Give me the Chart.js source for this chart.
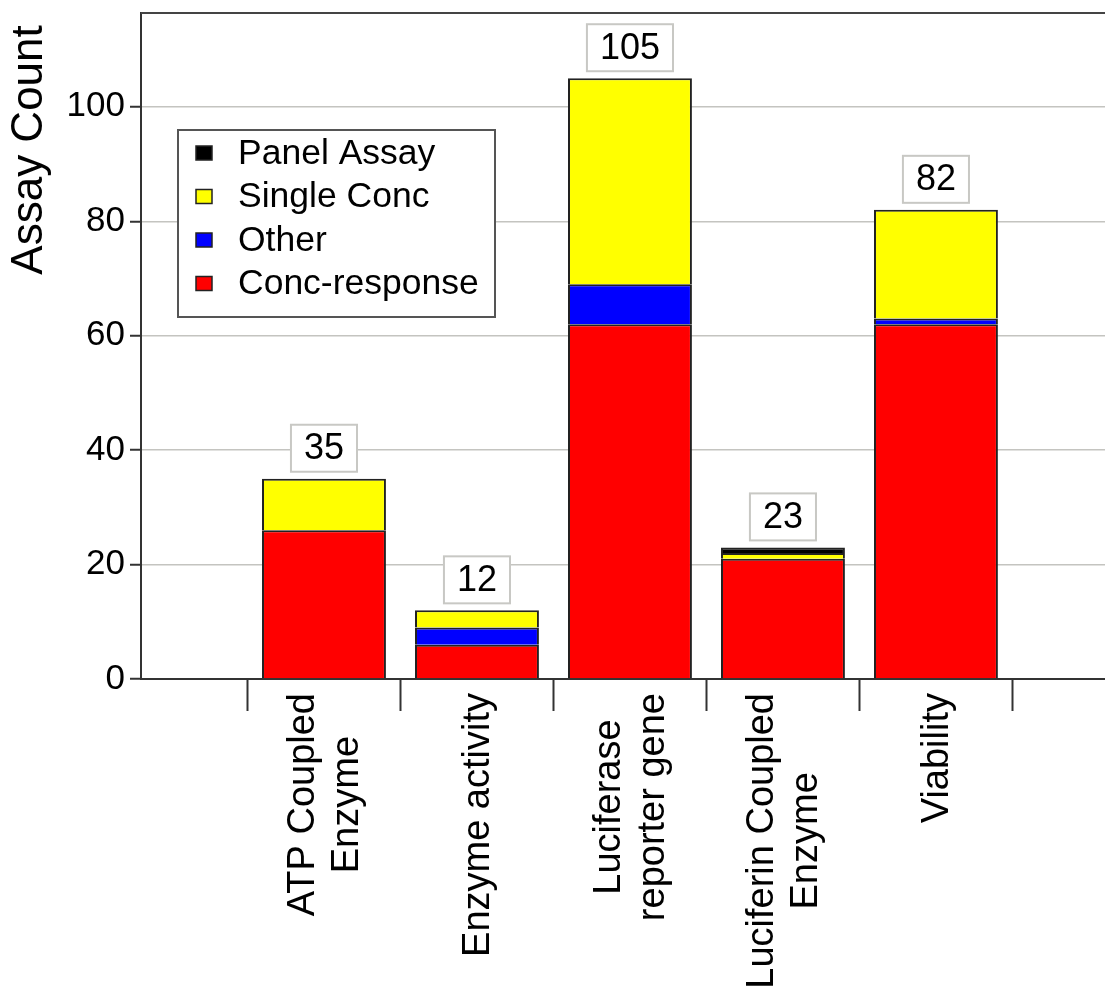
<!DOCTYPE html>
<html>
<head>
<meta charset="utf-8">
<script src="https://cdn.jsdelivr.net/npm/chart.js@4"></script>
<style>
  body { margin: 0; background: #fff; }
  canvas { display: block; }
</style>
</head>
<body>
<canvas id="assayChart" width="1105" height="997"></canvas>
<script>
// Assay counts per detection method, stacked by assay type
const categories = [
  ['ATP Coupled', 'Enzyme'],
  ['Enzyme activity'],
  ['Luciferase', 'reporter gene'],
  ['Luciferin Coupled', 'Enzyme'],
  ['Viability']
]
const concResponse = [26, 6, 62, 21, 62]
const other = [0, 3, 7, 0, 1]
const singleConc = [9, 3, 36, 1, 19]
const panelAssay = [0, 0, 0, 1, 0]

const FONT = "'Liberation Sans', Arial, sans-serif"

// empty segments are left out so they don't leave a stray border line
const toPoints = arr => arr.map((v, i) => ({ x: i + 1, y: v === 0 ? null : v }))

function makeSet(label, values, color) {
  return {
    label: label,
    data: toPoints(values),
    backgroundColor: color,
    borderColor: '#222',
    borderWidth: 2,
    borderSkipped: 'start',
    categoryPercentage: 1,
    barPercentage: 0.81
  }
}

// totals boxes, category labels, legend and top frame
const decorations = {
  id: 'decorations',
  afterDatasetsDraw(chart) {
    const ctx = chart.ctx
    const xs = chart.scales.x
    const ys = chart.scales.y
    const area = chart.chartArea

    // top frame line
    ctx.save()
    ctx.strokeStyle = '#444'
    ctx.lineWidth = 2
    ctx.beginPath()
    ctx.moveTo(area.left, area.top)
    ctx.lineTo(area.right, area.top)
    ctx.stroke()

    // totals
    ctx.font = '36px ' + FONT
    ctx.textAlign = 'center'
    ctx.textBaseline = 'middle'
    categories.forEach((c, i) => {
      let total = 0
      chart.data.datasets.forEach(ds => { total += ds.data[i].y || 0 })
      const cx = xs.getPixelForValue(i + 1)
      const top = ys.getPixelForValue(total)
      const txt = String(total)
      const w = ctx.measureText(txt).width + 26
      const h = 47
      const y0 = top - 7 - h
      ctx.fillStyle = '#fff'
      ctx.fillRect(cx - w / 2, y0, w, h)
      ctx.strokeStyle = '#c8c8c4'
      ctx.lineWidth = 2
      ctx.strokeRect(cx - w / 2, y0, w, h)
      ctx.fillStyle = '#000'
      ctx.fillText(txt, cx, y0 + h / 2 + 1)
    })

    // category labels, rotated, lines centred on each other
    ctx.font = '38px ' + FONT
    categories.forEach((lines, i) => {
      const cx = xs.getPixelForValue(i + 1)
      const wMax = Math.max(...lines.map(l => ctx.measureText(l).width))
      ctx.save()
      ctx.translate(cx, area.bottom + 14 + wMax / 2)
      ctx.rotate(-Math.PI / 2)
      ctx.textAlign = 'center'
      ctx.textBaseline = 'middle'
      ctx.fillStyle = '#000'
      lines.forEach((l, k) => {
        ctx.fillText(l, 0, (k - (lines.length - 1) / 2) * 44 + 2)
      })
      ctx.restore()
    })

    // legend box
    const bx = 178, by = 130, bw = 317, bh = 187
    ctx.fillStyle = '#fff'
    ctx.fillRect(bx, by, bw, bh)
    ctx.strokeStyle = '#555'
    ctx.lineWidth = 2
    ctx.strokeRect(bx, by, bw, bh)
    ctx.font = '35.5px ' + FONT
    ctx.textAlign = 'left'
    ctx.textBaseline = 'middle'
    const items = chart.data.datasets.slice().reverse()
    items.forEach((ds, k) => {
      const cy = 153 + k * 43.5
      ctx.fillStyle = ds.backgroundColor
      ctx.fillRect(196, cy - 7, 16, 14)
      ctx.strokeStyle = '#222'
      ctx.lineWidth = 1.5
      ctx.strokeRect(196, cy - 7, 16, 14)
      ctx.fillStyle = '#000'
      ctx.fillText(ds.label, 238, cy + 1)
    })
    ctx.restore()
  }
}

const ctx = document.getElementById('assayChart').getContext('2d')

new Chart(ctx, {
  type: 'bar',
  data: {
    datasets: [
      makeSet('Conc-response', concResponse, '#ff0000'),
      makeSet('Other', other, '#0000ff'),
      makeSet('Single Conc', singleConc, '#ffff00'),
      makeSet('Panel Assay', panelAssay, '#000000')
    ]
  },
  options: {
    responsive: false,
    animation: false,
    layout: {
      padding: { top: 13, right: 0, left: 0, bottom: 0 }
    },
    plugins: {
      legend: { display: false },
      tooltip: { enabled: false }
    },
    scales: {
      x: {
        type: 'linear',
        stacked: true,
        offset: false,
        min: -0.196,
        max: 6.105,
        afterBuildTicks: scale => {
          scale.ticks = categories.concat([[]]).map((c, i) => ({ value: i + 0.5 }))
        },
        afterFit: scale => {
          scale.height = 318
          scale.paddingLeft = 0
          scale.paddingRight = 0
        },
        ticks: { display: false },
        grid: {
          offset: false,
          drawOnChartArea: false,
          drawTicks: true,
          tickLength: 32,
          tickColor: '#333',
          tickWidth: 2
        },
        border: { color: '#333', width: 2 }
      },
      y: {
        stacked: true,
        min: 0,
        max: 116.4,
        afterFit: scale => {
          scale.width = 141
          scale.paddingTop = 0
          scale.paddingBottom = 0
        },
        ticks: {
          stepSize: 20,
          includeBounds: false,
          padding: 5,
          color: '#000',
          font: { family: FONT, size: 35 }
        },
        grid: {
          color: '#c4c4c0',
          lineWidth: 1.5,
          tickLength: 11,
          tickColor: '#333',
          tickWidth: 2
        },
        border: { color: '#333', width: 2 },
        title: {
          display: true,
          text: 'Assay Count ',
          align: 'end',
          color: '#000',
          font: { family: FONT, size: 44 },
          padding: { top: 3, bottom: 0 }
        }
      }
    }
  },
  plugins: [decorations]
})
</script>
</body>
</html>
